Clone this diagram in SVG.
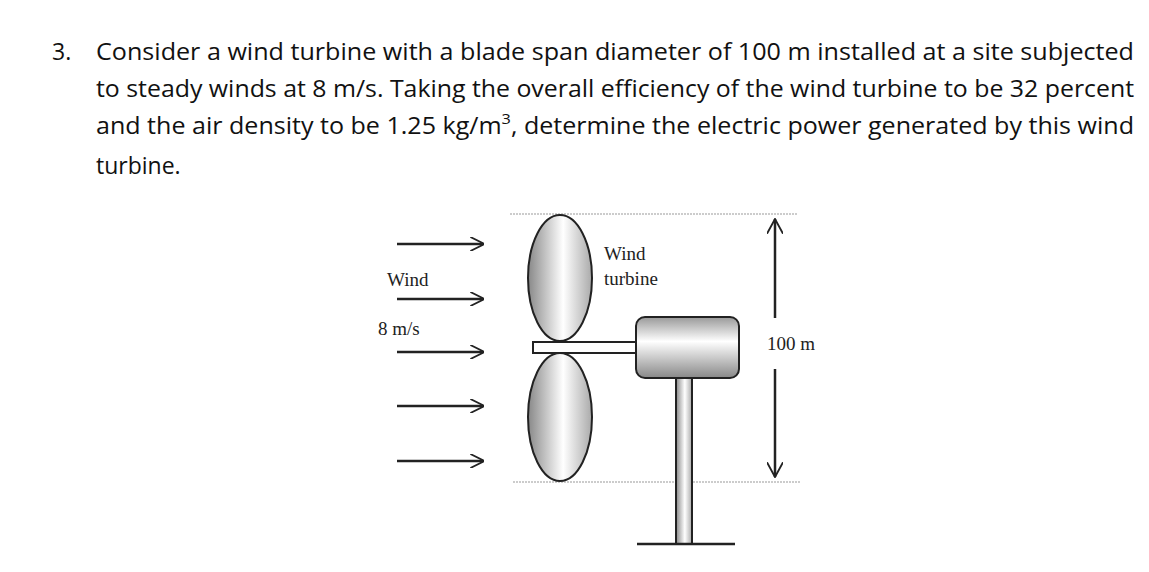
<svg xmlns="http://www.w3.org/2000/svg" width="1149" height="572" viewBox="0 0 1149 572">
<style>
.q{font-family:"Open Sans","Liberation Sans",sans-serif;font-size:23px;fill:#111}
.l{font-family:"Liberation Serif",serif;font-size:19px;fill:#222}
.ln{stroke:#222;stroke-width:2.5;fill:none}
.dot{stroke:#999;stroke-width:1.2;stroke-dasharray:2 1}
.sh{stroke:#222;stroke-width:2}
</style>
<defs>
<linearGradient id="g" x1="0" x2="1"><stop offset="0" stop-color="#888"/><stop offset="0.55" stop-color="#fff"/><stop offset="1" stop-color="#aaa"/></linearGradient>
<linearGradient id="gv" x1="0" x2="0" y1="0" y2="1"><stop offset="0" stop-color="#999"/><stop offset="0.4" stop-color="#fff"/><stop offset="1" stop-color="#888"/></linearGradient>
<marker id="a" viewBox="0 0 10 10" refX="9" refY="5" markerWidth="14" markerHeight="14" markerUnits="userSpaceOnUse" orient="auto"><path d="M0,0 L10,5 L0,10" fill="none" stroke="#222" stroke-width="1.3"/></marker>
<marker id="b" viewBox="0 0 12 12" refX="11" refY="6" markerWidth="16" markerHeight="16" markerUnits="userSpaceOnUse" orient="auto"><path d="M0,0 L11,6 L0,12" fill="none" stroke="#222" stroke-width="1.4"/></marker>
</defs>
<g id="question">
<text class="q" x="52" y="60">3.</text>
<text class="q" x="96" y="60" textLength="1038" lengthAdjust="spacingAndGlyphs">Consider a wind turbine with a blade span diameter of 100 m installed at a site subjected</text>
<text class="q" x="96" y="97" textLength="1038" lengthAdjust="spacingAndGlyphs">to steady winds at 8 m/s. Taking the overall efficiency of the wind turbine to be 32 percent</text>
<text class="q" x="96" y="134" textLength="1038" lengthAdjust="spacingAndGlyphs">and the air density to be 1.25 kg/m<tspan baseline-shift="super" font-size="15">3</tspan>, determine the electric power generated by this wind</text>
<text class="q" x="96" y="174">turbine.</text>
</g>
<g id="guides">
<line class="dot" x1="510" y1="214" x2="798" y2="214"/>
<line class="dot" x1="513" y1="482" x2="800" y2="482"/>
</g>
<g id="turbine">
<rect x="676" y="378" width="16" height="166" fill="url(#g)" class="sh"/>
<line class="ln" x1="637" y1="544" x2="735" y2="544"/>
<rect x="533" y="342" width="104" height="11" fill="#fff" class="sh"/>
<ellipse cx="560" cy="278" rx="32" ry="63" fill="url(#g)" class="sh"/>
<ellipse cx="560" cy="417" rx="32" ry="64" fill="url(#g)" class="sh"/>
<rect x="636" y="317" width="103" height="61" rx="9" fill="url(#gv)" class="sh"/>
</g>
<g id="labels">
<text class="l" x="387" y="286">Wind</text>
<text class="l" x="378" y="335">8 m/s</text>
<text class="l" x="604" y="260">Wind</text>
<text class="l" x="604" y="285">turbine</text>
<text class="l" x="767" y="350">100 m</text>
</g>
<g id="connectors">
<line class="ln" x1="397" y1="244" x2="483" y2="244" marker-end="url(#a)"/>
<line class="ln" x1="397" y1="299" x2="483" y2="299" marker-end="url(#a)"/>
<line class="ln" x1="397" y1="352" x2="483" y2="352" marker-end="url(#a)"/>
<line class="ln" x1="397" y1="406" x2="483" y2="406" marker-end="url(#a)"/>
<line class="ln" x1="397" y1="461" x2="483" y2="461" marker-end="url(#a)"/>
<line class="ln" x1="775" y1="318" x2="775" y2="219" marker-end="url(#b)"/>
<line class="ln" x1="775" y1="369" x2="775" y2="477" marker-end="url(#b)"/>
</g>
</svg>
